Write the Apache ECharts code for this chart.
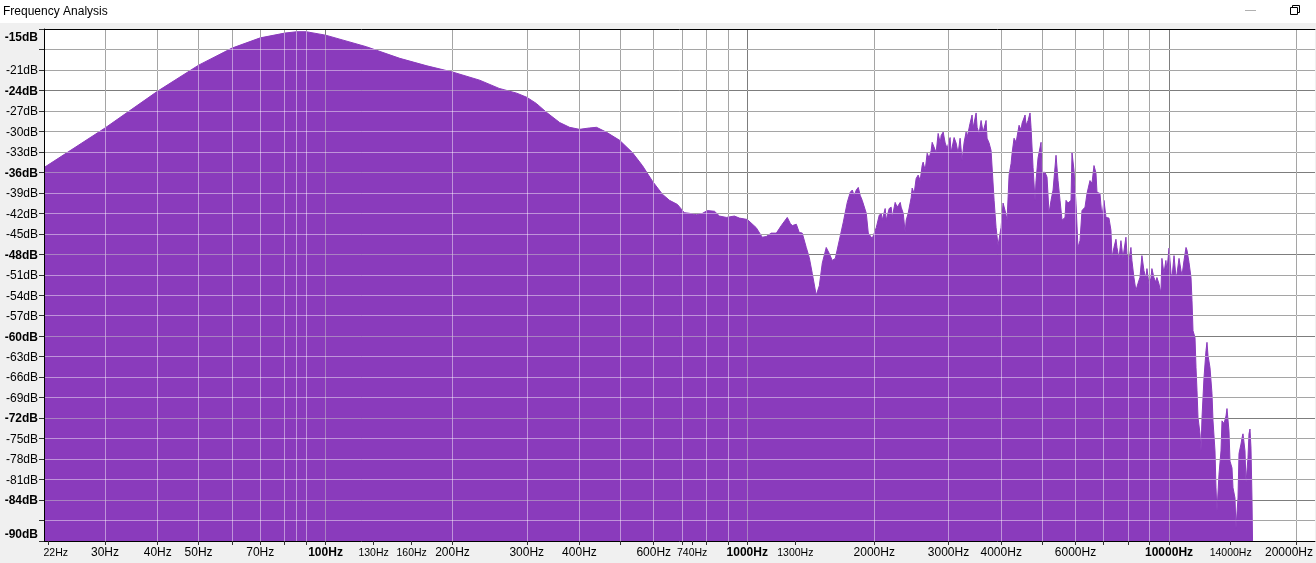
<!DOCTYPE html>
<html>
<head>
<meta charset="utf-8">
<title>Frequency Analysis</title>
<style>
    html, body { margin: 0; padding: 0; background: #f0f0f0; }
    #chart { width: 1316px; height: 563px; }
</style>
</head>
<body>
<div id="chart"></div>
<script src="https://cdn.jsdelivr.net/npm/echarts@6/dist/echarts.min.js"></script>
<script>
    // spectrum, in four bands (Hz / dB)
    var lowHz = [21.5, 30, 40, 50, 60, 70, 80, 85.4, 90, 100,
        125, 150, 174, 200, 232, 258, 284, 300, 316, 334,
        359, 379, 400, 422, 439, 463, 498, 534, 564, 596,
        629, 654, 683];
    var lowDb = [-35.3, -29.5, -24.1, -20.3, -17.8, -16.3, -15.6, -15.4, -15.4, -15.9,
        -17.6, -19.3, -20.4, -21.3, -22.5, -23.7, -24.4, -25.0, -25.9, -27.2,
        -28.7, -29.4, -29.7, -29.5, -29.4, -30.1, -31.3, -33.1, -35.0, -37.3,
        -39.2, -40.1, -40.7];

    var midHz = [709, 729, 757, 783, 804, 836, 859, 892, 932, 958,
        1000, 1050, 1085, 1109, 1140, 1172, 1204, 1244, 1265, 1279,
        1307, 1328, 1350, 1380, 1403, 1426, 1457, 1482, 1506, 1539,
        1565, 1590, 1617, 1652, 1689, 1726, 1755, 1774, 1793, 1813,
        1833, 1853, 1873, 1915, 1936, 1978, 2022];
    var midDb = [-41.9, -42.0, -42.2, -42.0, -41.6, -41.7, -42.4, -42.6, -42.4, -42.7,
        -42.9, -44.1, -45.5, -45.4, -44.9, -44.9, -43.8, -42.6, -43.5, -43.8,
        -43.6, -44.8, -44.9, -47.0, -48.5, -50.8, -54.0, -52.6, -49.3, -47.0,
        -47.9, -48.9, -48.6, -46.0, -43.3, -40.4, -38.9, -38.6, -39.4, -38.6,
        -38.2, -39.4, -40.1, -42.0, -44.9, -45.7, -44.1];

    var highHz = [2055, 2078, 2089, 2123, 2135, 2170, 2194, 2206, 2242, 2267,
        2305, 2317, 2343, 2368, 2381, 2407, 2447, 2460, 2487, 2514,
        2542, 2570, 2598, 2612, 2641, 2670, 2699, 2729, 2744, 2774,
        2804, 2835, 2867, 2882, 2914, 2946, 2978, 3026, 3043, 3093,
        3127, 3161, 3196, 3231, 3267, 3303, 3321, 3375, 3412, 3431,
        3488, 3507, 3545, 3584, 3623, 3683, 3703, 3744, 3785, 3848,
        3890, 3932, 3976, 3997, 4041, 4086, 4130, 4176, 4222, 4245,
        4291, 4339, 4362, 4410, 4458, 4483, 4557, 4582, 4632, 4682,
        4708, 4760, 4812, 4838, 4891, 4972, 4999, 5082, 5137, 5194,
        5251, 5309, 5396, 5455, 5515, 5576, 5668, 5698, 5761, 5856,
        5888, 5952, 6017, 6083, 6150, 6218, 6321, 6390, 6495, 6567,
        6639, 6711, 6748, 6859, 6935, 7011, 7088, 7126, 7204];
    var highDb = [-42.3, -42.0, -43.0, -41.3, -43.0, -41.3, -41.1, -42.6, -40.4, -41.1,
        -40.4, -41.1, -42.0, -44.8, -43.0, -42.0, -39.7, -38.3, -39.1, -36.9,
        -36.4, -37.2, -35.0, -34.5, -35.7, -33.2, -33.9, -32.8, -31.6, -31.7,
        -33.1, -30.3, -31.7, -30.6, -30.1, -31.7, -32.5, -30.9, -33.1, -30.9,
        -31.7, -33.2, -31.0, -34.2, -31.6, -30.1, -30.9, -28.8, -27.6, -29.5,
        -27.3, -29.4, -30.3, -28.4, -30.1, -28.4, -31.0, -31.7, -32.8, -40.1,
        -44.1, -46.7, -44.9, -44.1, -40.5, -41.6, -43.0, -36.4, -34.7, -33.2,
        -31.0, -31.6, -31.7, -29.1, -29.8, -28.8, -27.6, -29.1, -28.4, -27.3,
        -29.4, -35.3, -40.1, -37.2, -33.9, -31.6, -36.0, -36.0, -36.7, -42.0,
        -40.1, -38.6, -33.5, -37.2, -40.1, -43.0, -42.6, -40.1, -40.5, -40.1,
        -33.1, -35.7, -40.5, -47.0, -46.0, -41.6, -41.1, -39.1, -37.2, -37.6,
        -35.0, -36.1, -38.9, -39.1, -42.6, -40.1, -42.6, -42.7, -42.7];

    var topHz = [7283, 7323, 7403, 7484, 7525, 7608, 7691, 7776, 7904, 7947,
        8034, 8122, 8166, 8256, 8347, 8438, 8531, 8625, 8720, 8815,
        8864, 8960, 9058, 9108, 9208, 9309, 9360, 9463, 9567, 9619,
        9725, 9831, 9885, 10000, 10110, 10165, 10277, 10389, 10446, 10561,
        10677, 10735, 10853, 10972, 11032, 11153, 11275, 11337, 11399, 11524,
        11587, 11651, 11714, 11843, 11907, 11973, 12104, 12237, 12303, 12371,
        12507, 12644, 12714, 12853, 12923, 12994, 13137, 13281, 13354, 13500,
        13648, 13723, 13874, 13950, 14103, 14180, 14336, 14414, 14572, 14652,
        14813, 14894, 14975, 15140, 15223, 15389, 15474, 15559, 15644, 15729,
        15815];
    var topDb = [-44.5, -48.5, -47.0, -45.8, -47.0, -48.6, -46.0, -48.5, -45.5, -47.9,
        -48.9, -47.0, -48.9, -51.4, -53.3, -52.3, -51.4, -48.2, -50.4, -51.5,
        -50.1, -52.3, -51.5, -50.1, -51.4, -52.1, -51.4, -52.3, -53.7, -48.6,
        -50.8, -48.9, -50.4, -47.1, -50.8, -51.4, -48.2, -51.4, -50.8, -48.6,
        -50.4, -51.1, -48.9, -47.0, -47.4, -49.2, -51.4, -54.8, -59.2, -60.2,
        -64.6, -68.0, -71.9, -74.3, -76.8, -71.9, -66.1, -62.1, -60.9, -62.8,
        -64.6, -68.4, -72.4, -76.8, -82.2, -85.6, -80.2, -76.8, -72.4, -72.8,
        -71.7, -70.6, -73.9, -78.3, -79.3, -82.2, -83.7, -88.1, -83.7, -77.2,
        -75.8, -74.9, -74.3, -76.8, -81.5, -77.8, -74.3, -73.6, -76.4, -83.7,
        -95];

    // axes
    var hzLabels = [22, 30, 40, 50, 70, 100, 130, 160, 200, 300, 400, 600, 740,
        1000, 1300, 2000, 3000, 4000, 6000, 10000, 14000, 20000];
    var hzSmall = [22, 130, 160, 740, 1300, 14000];
    var hzBold = [100, 1000, 10000];
    var hzGridMinor = [30, 40, 50, 60, 70, 80, 85.4, 90, 200, 300, 400, 500, 600, 700, 800, 900,
        2000, 3000, 4000, 5000, 6000, 7000, 8000, 9000, 20000];
    var hzGridMajor = [100, 1000, 10000];
    var dbGridMinor = [-87, -81, -78, -75, -69, -66, -63, -57, -54, -51, -45, -42, -39,
        -33, -30, -27, -21, -18];
    var dbGridMajor = [-84, -72, -60, -48, -36, -24];
    var dbBold = [-15, -24, -36, -48, -60, -72, -84, -90];
    var dbHidden = [-18, -87];

    var FONT = 'Liberation Sans, Arial, sans-serif';
    var PURPLE = '#8a3bbc';

    var spectrum = [];
    [[lowHz, lowDb], [midHz, midDb], [highHz, highDb], [topHz, topDb]].forEach(function (band) {
        for (var i = 0; i < band[0].length; i++) {
            spectrum.push([band[0][i], band[1][i]]);
        }
    });

    var hzTicks = hzLabels.concat(hzGridMinor.filter(function (f) { return f !== 85.4; }), hzGridMajor)
        .filter(function (v, i, a) { return a.indexOf(v) === i; })
        .sort(function (a, b) { return a - b; });

    function gridLines(minorStyle, majorStyle) {
        var out = [];
        hzGridMinor.forEach(function (f) { out.push({xAxis: f, lineStyle: minorStyle}); });
        hzGridMajor.forEach(function (f) { out.push({xAxis: f, lineStyle: majorStyle}); });
        dbGridMinor.forEach(function (d) { out.push({yAxis: d, lineStyle: minorStyle}); });
        dbGridMajor.forEach(function (d) { out.push({yAxis: d, lineStyle: majorStyle}); });
        return out;
    }

    function gridLayer(z, minorColor, majorColor) {
        return {
            type: 'line',
            data: [],
            silent: true,
            markLine: {
                silent: true,
                z: z,
                animation: false,
                symbol: ['none', 'none'],
                label: {show: false},
                emphasis: {disabled: true},
                data: gridLines({color: minorColor, width: 1, type: 'solid'},
                    {color: majorColor, width: 1, type: 'solid'})
            }
        };
    }

    var myChart = echarts.init(document.getElementById('chart'));

    myChart.setOption({
        animation: false,
        backgroundColor: '#f0f0f0',
        textStyle: {fontFamily: FONT},
        title: {
            text: 'Frequency Analysis',
            left: 0,
            top: 0,
            padding: [6, 0, 0, 3],
            textStyle: {fontFamily: FONT, fontSize: 12, fontWeight: 'normal', color: '#000'}
        },
        graphic: [
            {type: 'rect', z: -1, shape: {x: 0, y: 0, width: 1316, height: 23}, style: {fill: '#fff'}},
            {type: 'line', shape: {x1: 1245, y1: 10.5, x2: 1256, y2: 10.5}, style: {stroke: '#b0b0b0', lineWidth: 1}},
            {type: 'rect', shape: {x: 1290.5, y: 7.5, width: 7, height: 7}, style: {fill: 'none', stroke: '#000', lineWidth: 1}},
            {type: 'polyline', shape: {points: [[1292.5, 7.5], [1292.5, 5.5], [1299.5, 5.5], [1299.5, 12.5], [1297.5, 12.5]]},
                style: {fill: 'none', stroke: '#000', lineWidth: 1}}
        ],
        grid: {
            left: 44, top: 29, right: 0, bottom: 22,
            show: true, backgroundColor: '#fff', borderWidth: 0
        },
        xAxis: [{
            type: 'log',
            logBase: 10,
            min: 21.5,
            max: 22180,
            z: 10,
            axisLine: {show: true, lineStyle: {color: '#000', width: 1}},
            axisTick: {show: true, length: 4, customValues: hzTicks, lineStyle: {color: '#333'}},
            splitLine: {show: false},
            minorTick: {show: false},
            axisLabel: {
                customValues: hzLabels,
                margin: 6,
                color: '#000',
                fontSize: 12,
                formatter: function (v) {
                    var f = Math.round(v);
                    var t = f + 'Hz';
                    if (f === 22) return '{sl|' + t + '}';
                    if (f === 20000) return '{nr|' + t + '}';
                    if (hzBold.indexOf(f) >= 0) return '{b|' + t + '}';
                    if (hzSmall.indexOf(f) >= 0) return '{s|' + t + '}';
                    return '{n|' + t + '}';
                },
                rich: {
                    n: {fontSize: 12, color: '#000', fontFamily: FONT},
                    b: {fontSize: 12, fontWeight: 'bold', color: '#000', fontFamily: FONT},
                    s: {fontSize: 10.5, color: '#000', fontFamily: FONT, padding: [1, 0, 0, 0]},
                    sl: {fontSize: 10.5, color: '#000', fontFamily: FONT, padding: [1, 0, 0, 15]},
                    nr: {fontSize: 12, color: '#000', fontFamily: FONT, padding: [0, 14, 0, 0]}
                }
            }
        }, {
            type: 'value',
            position: 'top',
            min: 0,
            max: 1,
            z: 10,
            axisLine: {show: true, lineStyle: {color: '#000', width: 1}},
            axisTick: {show: false},
            axisLabel: {show: false},
            splitLine: {show: false}
        }],
        yAxis: {
            type: 'value',
            min: -90,
            max: -15,
            interval: 3,
            z: 10,
            axisLine: {show: true, lineStyle: {color: '#000', width: 1}},
            axisTick: {show: true, length: 5, lineStyle: {color: '#333'}},
            splitLine: {show: false},
            axisLabel: {
                margin: 6,
                color: '#000',
                fontSize: 12,
                verticalAlignMinLabel: 'bottom',
                verticalAlignMaxLabel: 'top',
                formatter: function (v) {
                    var d = Math.round(v);
                    if (dbHidden.indexOf(d) >= 0) return '';
                    var t = d + 'dB';
                    if (d === -15) return '{t|' + t + '}';
                    return dbBold.indexOf(d) >= 0 ? '{b|' + t + '}' : '{n|' + t + '}';
                },
                rich: {
                    n: {fontSize: 12, color: '#000', fontFamily: FONT, padding: [2, 0, 0, 0]},
                    b: {fontSize: 12, fontWeight: 'bold', color: '#000', fontFamily: FONT, padding: [2, 0, 0, 0]},
                    t: {fontSize: 12, fontWeight: 'bold', color: '#000', fontFamily: FONT, padding: [3, 0, 0, 0]}
                }
            }
        },
        series: [
            gridLayer(1, '#5b5b5b', '#323232'),
            {
                name: 'spectrum',
                type: 'line',
                z: 2,
                data: spectrum,
                symbol: 'none',
                showSymbol: false,
                silent: true,
                clip: true,
                lineStyle: {color: PURPLE, width: 1},
                areaStyle: {color: PURPLE, opacity: 1, origin: 'start'}
            },
            gridLayer(3, 'rgba(255,255,255,0.45)', 'rgba(200,200,200,0.5)')
        ]
    });
</script>
</body>
</html>
